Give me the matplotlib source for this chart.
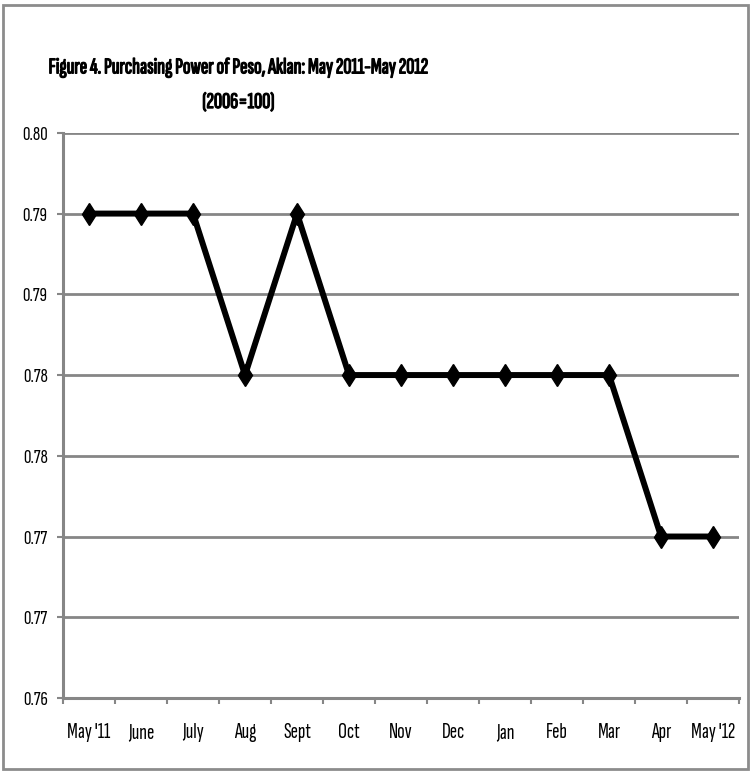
import matplotlib.pyplot as plt
import matplotlib.patheffects as pe
from matplotlib.patches import Rectangle
import numpy as np

# --- Data ---
months = ["May '11", "June", "July", "Aug", "Sept", "Oct", "Nov", "Dec",
          "Jan", "Feb", "Mar", "Apr", "May '12"]
ppp = [0.795, 0.795, 0.795, 0.785, 0.795, 0.785, 0.785, 0.785,
       0.785, 0.785, 0.785, 0.775, 0.775]
y_ticks = [0.765, 0.770, 0.775, 0.780, 0.785, 0.790, 0.795, 0.800]
y_labels = ["0.76", "0.77", "0.77", "0.78", "0.78", "0.79", "0.79", "0.80"]

plt.rcParams['font.family'] = ['Sofia Sans Extra Condensed', 'Sofia Sans Condensed',
                               'DejaVu Sans']

fig = plt.figure(figsize=(7.52, 7.71), dpi=100)
fig.patch.set_facecolor('white')
ax = fig.add_axes([0.0838, 0.0947, 0.899, 0.733])

grid_col = '#868686'

# --- Series ---
x = np.arange(len(months))
ax.plot(x, ppp, color='black', linewidth=4.3, marker='d', markersize=11.5,
        markerfacecolor='black', markeredgecolor='black', zorder=5, clip_on=False)

# --- Axes formatting ---
ax.set_xlim(-0.5, len(months) - 0.5)
ax.set_ylim(0.765, 0.800)
ax.set_yticks(y_ticks)
ax.set_yticklabels(y_labels)
ax.set_xticks(np.arange(len(months) + 1) - 0.5)
ax.set_xticklabels([])
ax.set_xticks(x, minor=True)
ax.set_xticklabels(months, minor=True)

ax.yaxis.grid(True, color=grid_col, linewidth=2)
ax.set_axisbelow(True)
for side in ['top', 'right']:
    ax.spines[side].set_visible(False)
for side in ['left', 'bottom']:
    ax.spines[side].set_color(grid_col)
    ax.spines[side].set_linewidth(2.2)

ax.tick_params(axis='y', which='major', direction='out', length=4, width=1.5,
               color=grid_col, labelsize=15, pad=7)
ax.tick_params(axis='x', which='major', direction='out', length=4, width=1.5,
               color=grid_col)
ax.tick_params(axis='x', which='minor', length=0, labelsize=16, pad=18)

# --- Title (faux bold via a thin stroke) ---
bold = [pe.Stroke(linewidth=0.9, foreground='black'), pe.Normal()]
t1 = fig.text(0.317, 0.912, "Figure 4. Purchasing Power of Peso, Aklan: May 2011-May 2012",
              ha='center', va='center', fontsize=18, path_effects=bold)
t2 = fig.text(0.317, 0.867, "(2006=100)", ha='center', va='center',
              fontsize=18, path_effects=bold)

# size the title so its first line spans ~380 px
renderer = fig.canvas.get_renderer()
w = t1.get_window_extent(renderer).width
size = 18 * 380.0 / w
t1.set_fontsize(size)
t2.set_fontsize(size)

# --- Chart frame ---
fig.patches.append(Rectangle((0.004, 0.002), 0.991, 0.991, transform=fig.transFigure,
                             fill=False, edgecolor='#8c8c8c', linewidth=2))

fig.savefig('out.png', dpi=100)
